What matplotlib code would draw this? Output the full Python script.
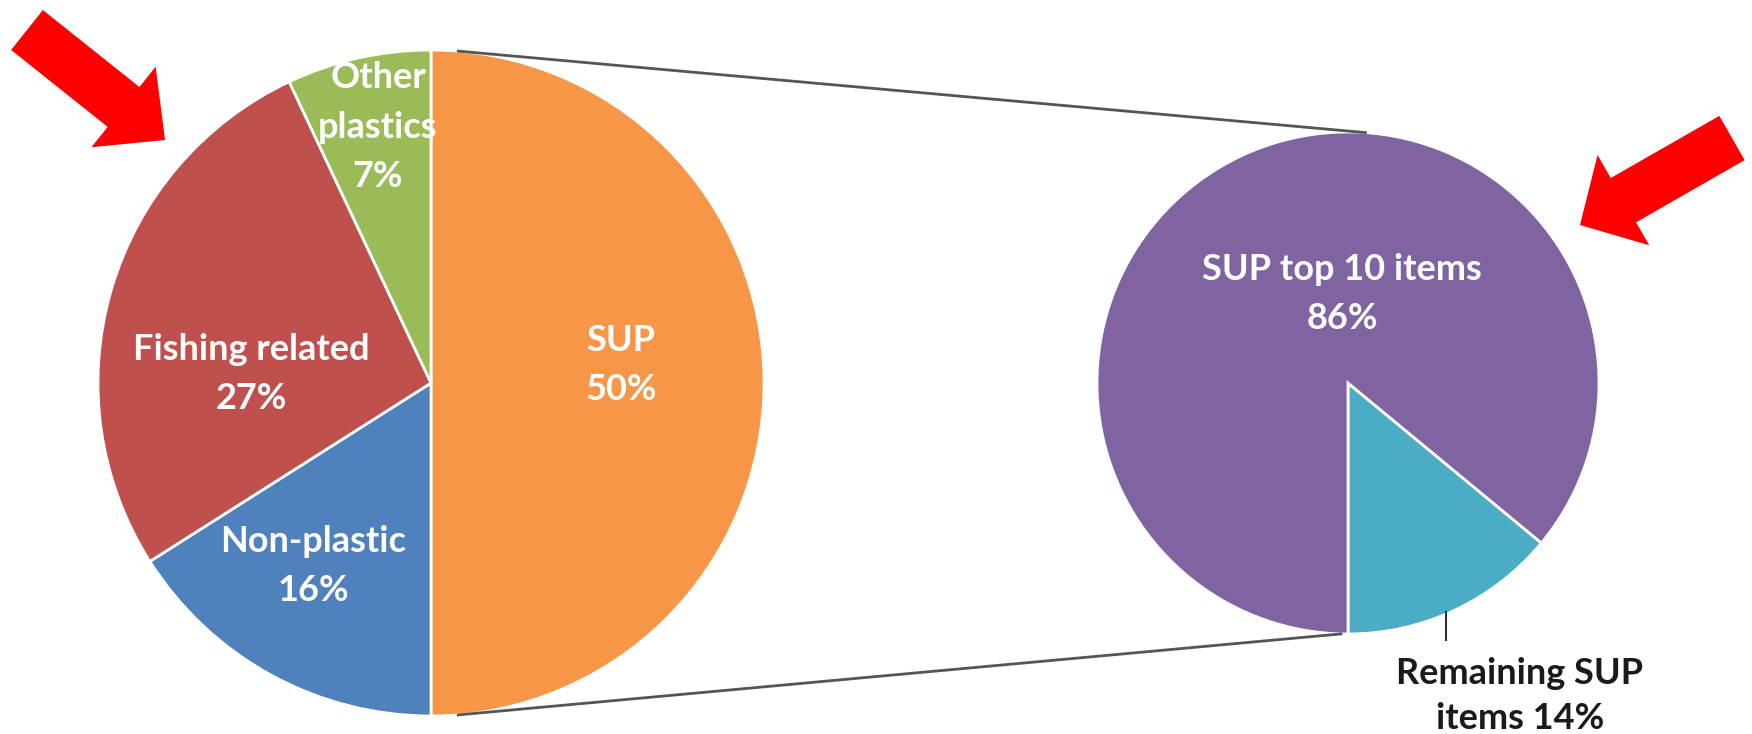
import numpy as np
import matplotlib.pyplot as plt
from matplotlib.patches import FancyArrow

# data
main_labels = ['SUP', 'Non-plastic', 'Fishing related', 'Other plastics']
main_values = [50, 16, 27, 7]
main_colors = ['#F79646', '#4F81BD', '#C0504D', '#9BBB59']
main_texts = ['SUP\n50%', 'Non-plastic\n16%', 'Fishing related\n27%', 'Other\nplastics\n7%']

sup_labels = ['Remaining SUP items', 'SUP top 10 items']
sup_values = [14, 86]
sup_colors = ['#4BACC6', '#8064A2']
sup_texts = ['Remaining SUP\nitems 14%', 'SUP top 10 items\n86%']

# layout (pixels, y up)
W, H = 1752, 734
left_c, left_r = (431, 351), 333
right_c, right_r = (1348, 351), 251
main_offsets = [(190, 18), (-118, -183), (-180, 9), (-53, 256)]
sup_offsets = [(172, -313), (-6, 89)]
sup_text_colors = ['#1a1a1a', 'white']
sup_spacing = [1.42, 1.6]

plt.rcParams['font.family'] = ['Lato', 'DejaVu Sans']

fig = plt.figure(figsize=(W / 100, H / 100), dpi=100)
ax = fig.add_axes([0, 0, 1, 1])

ax.pie(main_values, colors=main_colors, startangle=90, counterclock=False,
       center=left_c, radius=left_r,
       wedgeprops=dict(edgecolor='white', linewidth=2))
ax.pie(sup_values, colors=sup_colors, startangle=270, counterclock=True,
       center=right_c, radius=right_r,
       wedgeprops=dict(edgecolor='white', linewidth=2))

for txt, (dx, dy) in zip(main_texts, main_offsets):
    ax.text(left_c[0] + dx, left_c[1] + dy, txt, ha='center', va='center',
            color='white', fontsize=26, fontweight='bold', linespacing=1.6)
for txt, (dx, dy), col, ls in zip(sup_texts, sup_offsets, sup_text_colors, sup_spacing):
    ax.text(right_c[0] + dx, right_c[1] + dy, txt, ha='center', va='center',
            color=col, fontsize=26, fontweight='bold', linespacing=ls)

# leader line for the small slice
ax.plot([1446, 1446], [H - 612, H - 640], color='#333333', lw=1.5)

# connector lines between the pies
def on_circle(c, r, deg):
    t = np.deg2rad(deg)
    return c[0] + r * np.cos(t), c[1] + r * np.sin(t)

for a1, a2 in [(85.3, 86), (-85.3, -91.6)]:
    p1 = on_circle(left_c, left_r, a1)
    p2 = on_circle(right_c, right_r, a2)
    ax.plot([p1[0], p2[0]], [p1[1], p2[1]], color='#555555', lw=2)

# red arrows
ax.add_patch(FancyArrow(27, 704, 138, -110, width=51, head_width=103,
                        head_length=53, length_includes_head=True,
                        color='#FF0000', lw=0))
ax.add_patch(FancyArrow(1732, 596, -152, -87, width=51, head_width=104,
                        head_length=50, length_includes_head=True,
                        color='#FF0000', lw=0))

ax.set_xlim(0, W)
ax.set_ylim(0, H)
ax.set_aspect('auto')
ax.axis('off')

fig.savefig('out.png', dpi=100, facecolor='white')
